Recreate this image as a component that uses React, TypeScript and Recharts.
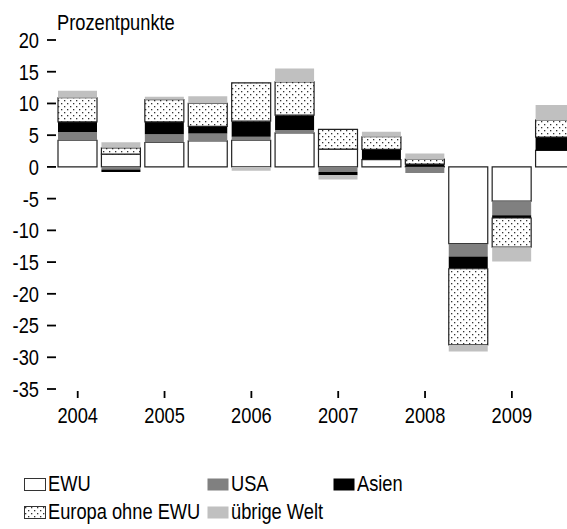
import { BarChart, Bar, XAxis, YAxis } from 'recharts'

const FONT = "'Liberation Sans', Arial, sans-serif"
const FS = 22
// the reference uses a narrow face; squeeze Liberation Sans to match
const SQUEEZE = 0.83

// half-years 2004 H1 .. 2009 H2
const periods = [
  '2004 H1', '2004 H2', '2005 H1', '2005 H2', '2006 H1', '2006 H2',
  '2007 H1', '2007 H2', '2008 H1', '2008 H2', '2009 H1', '2009 H2',
]
const ewu = [4.2, 2.0, 3.85, 4.1, 4.2, 5.35, 2.8, 1.15, 0.1, -12.1, -5.4, 2.6]
const usa = [1.3, -0.4, 1.3, 1.15, 0.55, 0.45, -0.8, 0, -0.95, -2.0, -2.2, 0]
const asien = [1.6, -0.4, 1.95, 1.15, 2.45, 2.35, -0.5, 1.6, 0.35, -1.95, -0.45, 2.1]
const europa = [3.8, 1.0, 3.5, 3.6, 6.05, 5.25, 3.1, 2.0, 0.8, -12.0, -4.6, 2.7]
const uebrige = [1.1, 0.9, 0.45, 1.15, -0.6, 2.1, -0.7, 0.8, 0.85, -1.05, -2.25, 2.35]
const yTicks = [-35, -30, -25, -20, -15, -10, -5, 0, 5, 10, 15, 20]

const data = periods.map((p, i) => ({
  period: p,
  ewu: ewu[i],
  usa: usa[i],
  asien: asien[i],
  europa: europa[i],
  uebrige: uebrige[i],
}))

const series = [
  { key: 'ewu', name: 'EWU', fill: '#ffffff', stroke: '#222222' },
  { key: 'usa', name: 'USA', fill: '#808080', stroke: 'none' },
  { key: 'asien', name: 'Asien', fill: '#000000', stroke: 'none' },
  { key: 'europa', name: 'Europa ohne EWU', fill: 'url(#dots)', stroke: '#222222' },
  { key: 'uebrige', name: 'übrige Welt', fill: '#c0c0c0', stroke: 'none' },
]

// legend placement, in the order of the series above
const legendPos = [
  { left: 24, top: 472 },
  { left: 207, top: 472 },
  { left: 333, top: 472 },
  { left: 24, top: 500 },
  { left: 207, top: 500 },
]

function DotPattern({ id }: { id: string }) {
  return (
    <pattern id={id} patternUnits="userSpaceOnUse" width="6" height="6">
      <rect width="6" height="6" fill="#ffffff" />
      <rect x="1" y="1" width="1.3" height="1.3" fill="#333333" />
      <rect x="4" y="4" width="1.3" height="1.3" fill="#333333" />
    </pattern>
  )
}

function YTick(props: any) {
  const { x, y, payload } = props
  return (
    <g transform={`translate(${x},${y}) scale(${SQUEEZE},1)`}>
      <text textAnchor="end" dy="0.36em" fontSize={FS} fontFamily={FONT} fill="#000">
        {payload.value}
      </text>
    </g>
  )
}

// year tick: short mark a little below the plot, label under it
function XTick(props: any) {
  const { x, y, payload } = props
  return (
    <g transform={`translate(${x},${y})`}>
      <line x1={0} x2={0} y1={2} y2={9} stroke="#000" strokeWidth={1.8} />
      <g transform={`translate(0,18) scale(${SQUEEZE},1)`}>
        <text textAnchor="middle" dy="0.71em" fontSize={FS} fontFamily={FONT} fill="#000">
          {String(payload.value).slice(0, 4)}
        </text>
      </g>
    </g>
  )
}

function Squeezed({ children }: { children: React.ReactNode }) {
  return (
    <span
      style={{
        display: 'inline-block',
        transform: `scaleX(${SQUEEZE})`,
        transformOrigin: 'left center',
        whiteSpace: 'nowrap',
      }}
    >
      {children}
    </span>
  )
}

function Swatch({ s }: { s: (typeof series)[number] }) {
  return (
    <svg width={22} height={13} style={{ display: 'block', flex: 'none' }}>
      <defs>
        <DotPattern id="dotsLegend" />
      </defs>
      <rect
        x={0.5}
        y={0.5}
        width={21}
        height={12}
        fill={s.key === 'europa' ? 'url(#dotsLegend)' : s.fill}
        stroke={s.stroke === 'none' ? 'none' : '#333'}
        strokeWidth={1}
      />
    </svg>
  )
}

export default function App() {
  return (
    <div
      style={{
        position: 'absolute',
        left: 0,
        top: 0,
        width: 567,
        height: 529,
        overflow: 'hidden',
        background: '#fff',
        fontFamily: FONT,
      }}
    >
      <div
        style={{
          position: 'absolute',
          left: 57,
          top: 11,
          fontSize: FS,
          lineHeight: '24px',
          color: '#000',
        }}
      >
        <Squeezed>Prozentpunkte</Squeezed>
      </div>
      <BarChart
        width={590}
        height={440}
        data={data}
        stackOffset="sign"
        barCategoryGap={2}
        margin={{ top: 40, right: 13, left: 0, bottom: 0 }}
      >
        <defs>
          <DotPattern id="dots" />
        </defs>
        <XAxis
          dataKey="period"
          interval={1}
          axisLine={false}
          tickLine={false}
          tickSize={0}
          tickMargin={0}
          height={51}
          tick={<XTick />}
        />
        <YAxis
          domain={[-35, 20]}
          ticks={yTicks}
          width={56}
          axisLine={false}
          tickSize={9}
          tickMargin={8}
          tickLine={{ stroke: '#000', strokeWidth: 1.8 }}
          tick={<YTick />}
        />
        {series.map((s) => (
          <Bar
            key={s.key}
            dataKey={s.key}
            name={s.name}
            stackId="a"
            fill={s.fill}
            stroke={s.stroke}
            strokeWidth={1.2}
            isAnimationActive={false}
          />
        ))}
      </BarChart>
      {series.map((s, i) => (
        <div
          key={s.key}
          style={{
            position: 'absolute',
            left: legendPos[i].left,
            top: legendPos[i].top,
            display: 'flex',
            alignItems: 'center',
            gap: 2,
            fontSize: FS,
            lineHeight: '24px',
            color: '#000',
          }}
        >
          <Swatch s={s} />
          <Squeezed>{s.name}</Squeezed>
        </div>
      ))}
    </div>
  )
}
